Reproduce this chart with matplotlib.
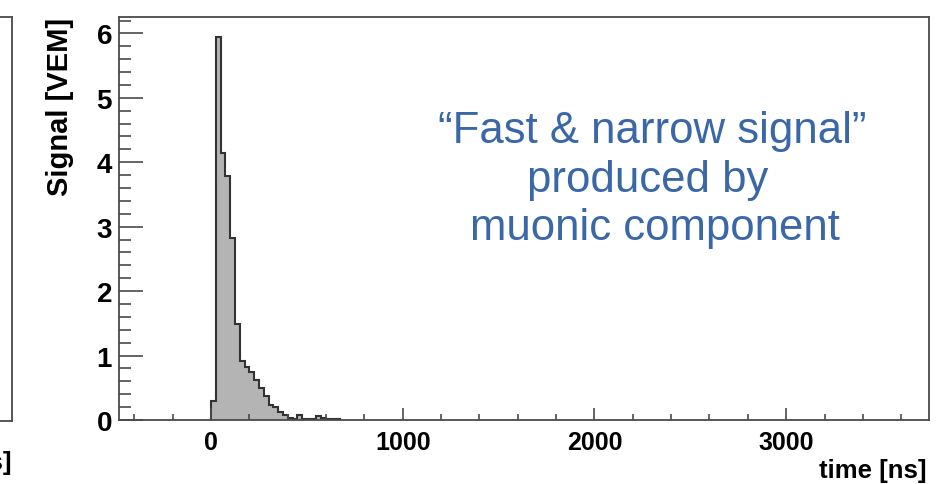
import matplotlib
matplotlib.use("Agg")
import matplotlib.pyplot as plt
from matplotlib.ticker import MultipleLocator
import numpy as np

# station trace, 25 ns FADC bins starting at t = 0
bin_width = 25
signal_vem = [0.30, 5.95, 4.15, 3.78, 2.83, 1.49, 0.92, 0.83, 0.75, 0.62,
              0.50, 0.38, 0.24, 0.20, 0.12, 0.07, 0.03, 0.02, 0.08, 0.02,
              0.02, 0.02, 0.06, 0.03, 0.02, 0.02, 0.01]
bin_edges = np.arange(len(signal_vem) + 1) * bin_width

x_ticks = [0, 1000, 2000, 3000]
y_ticks = [0, 1, 2, 3, 4, 5, 6]
note_lines = ["\u201cFast & narrow signal\u201d", "produced by", "muonic component"]

W, H = 947, 485
fig = plt.figure(figsize=(W / 100, H / 100), dpi=100)

frame_col = "#4a4a4a"
bold_font = ["Liberation Sans", "DejaVu Sans"]
sans = ["Liberation Sans", "DejaVu Sans"]

# neighbouring panel, only its right edge is in view
left = fig.add_axes([-800 / W, (H - 422) / H, 812 / W, 404 / H])
left.set_xticks([])
left.set_yticks([])
for s in left.spines.values():
    s.set_color(frame_col)
    s.set_linewidth(1.3)
left.text(1.0, -0.119, "time [ns]", transform=left.transAxes, ha="right",
          va="baseline", family=bold_font, fontweight="bold", fontsize=18.5)

ax = fig.add_axes([119 / W, (H - 421) / H, 810 / W, 402.7 / H])
ax.stairs(signal_vem, bin_edges, fill=True, color="#b4b4b4", lw=0)
ax.stairs(signal_vem, bin_edges, color="#333333", lw=1.5, baseline=0)

ax.set_xlim(-480, 3745)
ax.set_ylim(0, 6.25)
ax.set_xticks(x_ticks)
ax.set_yticks(y_ticks)
ax.xaxis.set_minor_locator(MultipleLocator(200))
ax.yaxis.set_minor_locator(MultipleLocator(0.2))

for s in ax.spines.values():
    s.set_color(frame_col)
    s.set_linewidth(1.3)

ax.tick_params(which="both", direction="in", top=False, right=False,
               color=frame_col, width=1.2)
ax.tick_params(axis="y", which="major", length=24 * 0.72, pad=5)
ax.tick_params(axis="y", which="minor", length=12 * 0.72)
ax.tick_params(axis="x", which="major", length=12 * 0.72, pad=7)
ax.tick_params(axis="x", which="minor", length=6 * 0.72)
for lab in ax.get_yticklabels():
    lab.set_fontfamily(bold_font)
    lab.set_fontweight("bold")
    lab.set_fontsize(20)
for lab in ax.get_xticklabels():
    lab.set_fontfamily(bold_font)
    lab.set_fontweight("bold")
    lab.set_fontsize(18)

ax.text(-0.0728, 1.0, "Signal [VEM]", transform=ax.transAxes, rotation=90,
        ha="center", va="top", family=sans, fontweight="bold", fontsize=21)
ax.text(0.9975, -0.1415, "time [ns]", transform=ax.transAxes, ha="right",
        va="baseline", family=bold_font, fontweight="bold", fontsize=18.5)

# annotation, one line at a time
note_x = [0.658, 0.653, 0.662]
note_y = [0.690, 0.569, 0.449]
for txt, nx, ny in zip(note_lines, note_x, note_y):
    ax.text(nx, ny, txt, transform=ax.transAxes, ha="center", va="baseline",
            family=sans, fontsize=31.5, color="#3a67a8")

fig.savefig("out.png", dpi=100)
